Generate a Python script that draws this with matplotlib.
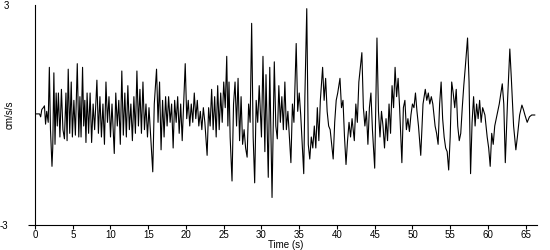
import numpy as np
import matplotlib.pyplot as plt

plt.rcParams['font.family'] = ['Liberation Sans', 'DejaVu Sans']

# extrema of the trace (time in s, accel in cm/s/s)
t_0_5 = [0.0, 0.6, 0.75, 0.9, 1.1, 1.25, 1.4, 1.55, 1.75, 1.9, 2.05, 2.25, 2.35, 2.5,
         2.65, 2.8, 2.95, 3.1, 3.3, 3.5, 3.7, 3.9, 4.1, 4.25, 4.4, 4.6, 4.8, 4.95]
v_0_5 = [0.03, 0.03, -0.05, 0.15, 0.2, 0.25, -0.25, 0.1, -0.2, 1.3, -0.4, -1.4, -0.9, 1.15,
         -0.8, 0.6, -0.3, 0.6, -0.6, 0.7, -0.4, -0.65, 0.6, -0.7, 1.25, -0.5, 0.9, -0.6]

t_5_10 = [5.15, 5.35, 5.6, 5.8, 5.95, 6.1, 6.3, 6.45, 6.6, 6.75, 6.9, 7.1, 7.3, 7.5,
          7.7, 7.9, 8.2, 8.4, 8.6, 8.8, 9.0, 9.2, 9.4, 9.6, 9.8, 10.0]
v_5_10 = [0.4, -0.55, 1.4, -0.6, 0.5, -0.6, 1.3, -0.3, 0.4, -0.75, 0.6, -0.5, 0.6, -0.75,
          0.3, -0.4, 0.95, -0.5, 0.5, -0.6, 0.3, -0.8, 0.9, -0.2, 0.5, -0.6]

t_10_15 = [10.2, 10.5, 10.7, 10.9, 11.1, 11.3, 11.5, 11.7, 11.9, 12.1, 12.3, 12.5, 12.7,
           12.9, 13.1, 13.3, 13.5, 13.7, 13.9, 14.1, 14.3, 14.5, 14.7, 14.9]
v_10_15 = [0.3, -1.05, 0.6, -0.3, 0.4, -0.8, 1.2, -0.55, 0.6, -0.6, 0.8, -0.4, 0.3,
           -0.7, 0.5, -0.5, 1.2, -0.3, 0.7, -0.5, 0.9, -0.4, 0.3, -0.6]

t_15_20 = [15.1, 15.3, 15.6, 15.8, 16.1, 16.3, 16.5, 16.7, 16.9, 17.1, 17.3, 17.5, 17.7,
           17.9, 18.1, 18.3, 18.5, 18.7, 18.9, 19.1, 19.3, 19.5, 19.9, 20.1, 20.3]
v_15_20 = [0.2, -0.5, -1.55, 0.3, 1.25, -0.2, 0.9, -0.95, 0.4, -0.6, 0.5, -0.3, 0.5,
           -0.2, 0.3, -0.9, 0.4, -0.2, 0.5, -0.5, 0.3, -0.7, 1.4, -0.1, 0.4]

t_20_25 = [20.5, 20.7, 20.9, 21.1, 21.3, 21.5, 21.7, 21.9, 22.1, 22.3, 22.5, 22.8, 23.0,
           23.2, 23.4, 23.6, 23.8, 24.0, 24.2, 24.4, 24.6, 24.8, 25.0, 25.2]
v_20_25 = [-0.3, 0.3, -0.2, 0.6, -0.1, 0.4, -0.3, 0.1, -0.4, 0.2, -0.2, -1.1, 0.2,
           -0.3, 0.7, -0.4, 0.5, -0.6, 0.8, -0.4, 0.6, -0.2, 0.9, 0.2]

t_25_30 = [25.4, 25.55, 25.7, 25.85, 26.1, 26.3, 26.5, 26.7, 26.9, 27.1, 27.3, 27.5, 27.7,
           27.9, 28.1, 28.3, 28.5, 28.7, 28.9, 29.1, 29.3, 29.5, 29.7, 30.0, 30.2]
v_25_30 = [1.6, -0.3, 0.9, -0.6, -1.8, 0.3, 0.9, -0.3, 1.0, -0.7, 0.5, -0.8, -0.4,
           -0.9, -1.15, 0.3, -0.2, 2.5, -0.6, -1.85, 0.4, -0.2, 0.8, -0.6, 1.6]

t_30_35 = [30.45, 30.6, 30.9, 31.1, 31.4, 31.7, 31.9, 32.1, 32.3, 32.5, 32.7, 32.9, 33.1,
           33.3, 33.5, 33.9, 34.1, 34.3, 34.6, 34.8, 35.0, 35.2]
v_30_35 = [-1.0, 1.1, -1.7, 1.3, -2.25, 1.45, -0.3, -0.65, 0.8, -0.2, 0.5, -0.4, 0.9,
           -0.4, 0.1, -1.3, 0.3, -0.2, 1.95, 0.1, 0.6, 0.0]

t_35_40 = [35.35, 35.6, 35.75, 36.0, 36.2, 36.4, 36.6, 36.8, 37.0, 37.2, 37.4, 37.6, 37.8,
           38.1, 38.3, 38.5, 38.7, 38.9, 39.1, 39.5, 39.7, 39.9, 40.1, 40.4]
v_35_40 = [-0.6, -1.6, 0.5, 2.9, -0.8, -1.2, -0.6, -0.9, -0.3, -0.9, 0.2, -0.7, 0.4,
           1.3, 0.4, 1.0, 0.1, -0.3, -0.4, -1.2, -0.2, 0.4, 0.6, 1.0]

t_40_45 = [40.6, 40.8, 41.0, 41.2, 41.4, 41.6, 41.8, 42.0, 42.3, 42.5, 42.7, 42.9, 43.3,
           43.5, 43.7, 43.9, 44.1, 44.3, 44.5, 44.7, 45.0, 45.3, 45.5, 45.7]
v_40_45 = [0.2, 0.4, -0.6, -1.35, -0.7, -0.2, -0.6, -0.1, -0.7, 0.3, -0.2, 0.9, 1.7,
           0.2, -0.3, 0.1, -0.8, 0.2, 0.6, -0.4, -1.45, 2.1, 0.1, -0.6]

t_45_50 = [45.9, 46.1, 46.3, 46.5, 46.7, 46.9, 47.1, 47.3, 47.5, 47.7, 47.9, 48.1, 48.3,
           48.6, 48.8, 49.0, 49.2, 49.4, 49.6, 49.8, 50.0]
v_45_50 = [0.1, -0.3, -0.9, -0.1, -0.7, 0.3, -0.5, 0.8, 0.2, 1.3, 0.5, 1.0, 0.2,
           -1.3, 0.2, 0.4, -0.4, -0.1, -0.45, 0.0, 0.3]

t_50_55 = [50.2, 50.4, 50.6, 50.8, 51.1, 51.4, 51.7, 51.9, 52.1, 52.3, 52.5, 52.7, 53.0,
           53.2, 53.4, 53.6, 53.8, 54.0, 54.2, 54.4, 54.6, 54.8, 55.0, 55.2]
v_50_55 = [0.2, 0.6, 0.1, -0.3, -1.1, 0.3, 0.7, 0.4, 0.6, 0.3, 0.5, 0.3, -0.3,
           -0.5, -0.8, 0.3, 0.9, -0.1, -0.6, -0.9, -1.0, -1.5, -0.6, 0.9]

t_55_60 = [55.4, 55.6, 55.8, 56.0, 56.2, 56.4, 56.6, 56.8, 57.0, 57.3, 57.5, 57.7, 57.9,
           58.1, 58.3, 58.5, 58.7, 58.9, 59.1, 59.3, 59.6, 59.9, 60.1, 60.3]
v_55_60 = [0.6, 0.2, 0.7, -0.3, -0.7, -0.5, 0.2, 0.8, 1.3, 2.1, 0.9, -1.6, -0.2,
           0.5, -0.3, 0.3, -0.1, 0.4, -0.2, 0.2, 0.0, -0.6, -0.9, -1.4]

t_60_66 = [60.5, 60.7, 60.9, 61.1, 61.3, 61.5, 61.9, 62.1, 62.3, 62.6, 62.9, 63.1, 63.4,
           63.7, 63.9, 64.2, 64.5, 64.7, 64.9, 65.2, 65.5, 65.8, 66.2]
v_60_66 = [-0.5, -0.8, -0.3, -0.1, 0.1, 0.3, 0.85, 0.3, -1.3, 0.4, 1.8, 1.0, -0.3,
           -0.95, -0.6, 0.0, 0.27, 0.15, 0.0, -0.2, -0.05, 0.0, 0.0]

time = np.concatenate([t_0_5, t_5_10, t_10_15, t_15_20, t_20_25, t_25_30, t_30_35,
                       t_35_40, t_40_45, t_45_50, t_50_55, t_55_60, t_60_66])
accel = np.concatenate([v_0_5, v_5_10, v_10_15, v_15_20, v_20_25, v_25_30, v_30_35,
                        v_35_40, v_40_45, v_45_50, v_50_55, v_55_60, v_60_66])

x_ticks = list(range(0, 70, 5))

fig = plt.figure(figsize=(5.5, 2.5), dpi=100)
ax = fig.add_axes([35 / 550, 25 / 250, 502 / 550, 220 / 250])

ax.plot(time, accel, color='black', linewidth=0.8)

ax.set_xlim(0, 66.5)
ax.set_ylim(-3, 3)
ax.spines['top'].set_visible(False)
ax.spines['right'].set_visible(False)
ax.spines['left'].set_linewidth(0.8)
ax.spines['bottom'].set_linewidth(0.8)

ax.set_xticks(x_ticks)
ax.tick_params(axis='x', length=3, width=0.8, pad=0.5, labelsize=7)
ax.set_yticks([-3, 3])
ax.set_yticklabels(['-3', '3'])
ax.tick_params(axis='y', length=5, width=0.8, pad=14, labelsize=7)
ax.yaxis.get_major_ticks()[1].tick1line.set_visible(False)

ax.set_xlabel('Time (s)', fontsize=7, labelpad=0)
ax.set_ylabel('cm/s/s', fontsize=7)
ax.yaxis.set_label_coords(-0.04, 0.5)

fig.savefig('out.png', dpi=100)
